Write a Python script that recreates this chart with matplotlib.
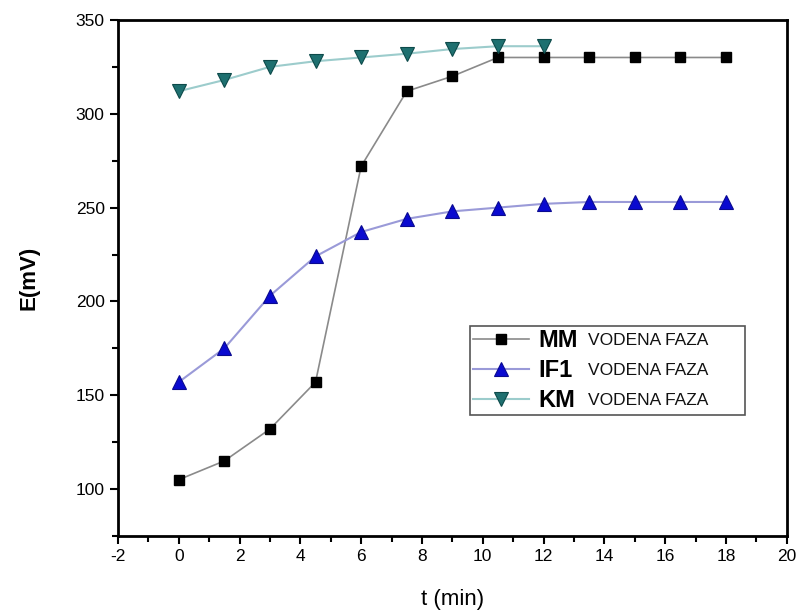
import matplotlib
matplotlib.use("Agg")
import matplotlib.pyplot as plt
from matplotlib.ticker import MultipleLocator

plt.rcParams['font.family'] = ['Liberation Sans', 'DejaVu Sans']
plt.rcParams['axes.unicode_minus'] = False

t_mm = [0, 1.5, 3, 4.5, 6, 7.5, 9, 10.5, 12, 13.5, 15, 16.5, 18]
e_mm = [105, 115, 132, 157, 272, 312, 320, 330, 330, 330, 330, 330, 330]
t_if1 = [0, 1.5, 3, 4.5, 6, 7.5, 9, 10.5, 12, 13.5, 15, 16.5, 18]
e_if1 = [157, 175, 203, 224, 237, 244, 248, 250, 252, 253, 253, 253, 253]
t_km = [0, 1.5, 3, 4.5, 6, 7.5, 9, 10.5, 12]
e_km = [312, 318, 325, 328, 330, 332, 334.5, 336, 336]
names = ['MM', 'IF1', 'KM']
phase = 'VODENA FAZA'

fig = plt.figure(figsize=(8.02, 6.10), dpi=100)
ax = fig.add_axes([0.147, 0.1213, 0.834, 0.846])

h1, = ax.plot(t_mm, e_mm, '-', color='#8a8a8a', lw=1.2, marker='s', ms=7.5,
              mfc='black', mec='black')
h2, = ax.plot(t_if1, e_if1, '-', color='#9a9ad8', lw=1.5, marker='^', ms=9.5,
              mfc='#0a0ad0', mec='#0a0a90', mew=0.8)
h3, = ax.plot(t_km, e_km, '-', color='#9ccccc', lw=1.5, marker='v', ms=9.5,
              mfc='#1e7070', mec='#0d4a4a', mew=0.8)

ax.set_xlim(-2, 20)
ax.set_ylim(75, 350)
ax.xaxis.set_major_locator(MultipleLocator(2))
ax.xaxis.set_minor_locator(MultipleLocator(1))
ax.yaxis.set_major_locator(MultipleLocator(50))
ax.yaxis.set_minor_locator(MultipleLocator(25))
ax.tick_params(which='both', direction='out', width=1.5, labelsize=12.5,
               top=False, right=False)
ax.tick_params(which='major', length=6)
ax.tick_params(which='minor', length=4)
for s in ax.spines.values():
    s.set_linewidth(2)

ax.set_xlabel('t (min)', fontsize=16, labelpad=18)
ax.set_ylabel('E(mV)', fontsize=16, fontweight='bold', labelpad=26)
ax.set_yticks([100, 150, 200, 250, 300, 350])

leg = ax.legend([h1, h2, h3], names, loc='lower left',
                bbox_to_anchor=(0.526, 0.2345, 0.411, 0.175), mode='expand',
                prop={'size': 17, 'weight': 'bold'}, frameon=True,
                fancybox=False, edgecolor='#555555', framealpha=1,
                handlelength=2.4, handletextpad=0.4, borderpad=0.12,
                labelspacing=0.3, borderaxespad=0)
leg.get_frame().set_linewidth(1.2)
fig.canvas.draw()
inv = ax.transAxes.inverted()
for txt in leg.get_texts():
    bb = txt.get_window_extent()
    ycen = (bb.y0 + bb.y1) / 2
    _, ya = inv.transform((0, ycen))
    ax.text(0.703, ya, phase, transform=ax.transAxes, fontsize=12.5,
            va='center', ha='left', zorder=10, color='#111111')

fig.savefig('out.png', dpi=100)
